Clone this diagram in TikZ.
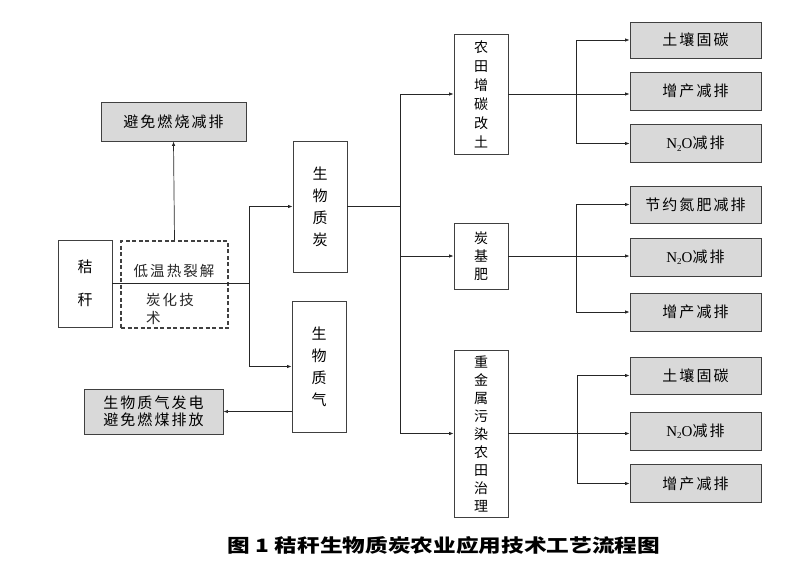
\documentclass[tikz,border=0pt]{standalone}
\usepackage{fontspec}
\newfontfamily\cjk{Noto Sans CJK SC}
\newfontfamily\cjks{Noto Sans CJK SC}[LetterSpace=14]
\newfontfamily\serifN{Liberation Serif}
\usetikzlibrary{arrows.meta}
\definecolor{boxgray}{HTML}{D9D9D9}
\definecolor{edge}{HTML}{404040}
\tikzset{
  wbox/.style={draw=edge, line width=0.9pt, fill=white, inner sep=0pt, align=center,
    font=\cjk\fontsize{14}{18}\selectfont},
  gbox/.style={draw=edge, line width=0.9pt, fill=boxgray, inner sep=0pt, align=center,
    minimum width=131pt, minimum height=38pt, font=\cjks\fontsize{15}{17}\selectfont},
  dbox/.style={draw=edge, line width=1.6pt, dash pattern=on 4pt off 2.5pt, inner sep=0pt},
  conn/.style={draw=black!85, line width=0.7pt},
  arr/.style={conn, -{Latex[length=4.5pt,width=3.5pt]}},
  plain/.style={inner sep=0pt, font=\cjks\fontsize{14.5}{18}\selectfont, text=black!85}
}
\newcommand{\NO}{{\serifN N\raisebox{-0.35ex}{\fontsize{9}{9}\selectfont 2}O}减排}
\begin{document}
\begin{tikzpicture}[x=1pt,y=-1pt]
\useasboundingbox (0,0) rectangle (800,587);
% left part
\node[wbox, minimum width=54pt, minimum height=87pt, font=\cjk\fontsize{15}{33}\selectfont] (jg) at (85,283.5) {秸\\秆};
\node[dbox, minimum width=107pt, minimum height=87pt] (dash) at (174.5,284.5) {};
\node[plain] (t1) at (174,271) {低温热裂解};
\node[plain, anchor=west] (t2) at (146,300) {炭化技};
\node[plain, anchor=west] (t3) at (146,318) {术};
\node[gbox, minimum width=145pt, minimum height=39pt] (avoid) at (173.5,121.5) {避免燃烧减排};
\node[wbox, minimum width=54pt, minimum height=131pt, font=\cjk\fontsize{15}{22}\selectfont] (char) at (320,206.5) {生\\物\\质\\炭};
\node[wbox, minimum width=54pt, minimum height=131pt, font=\cjk\fontsize{15}{22}\selectfont] (gas) at (319,366.5) {生\\物\\质\\气};
\node[gbox, minimum width=139pt, minimum height=45pt] (power) at (153.5,411.5) {生物质气发电\\避免燃煤排放};
% middle column
\node[wbox, minimum width=54pt, minimum height=120pt, font=\cjk\fontsize{14}{19}\selectfont] (n1) at (481,94) {农\\田\\增\\碳\\改\\土};
\node[wbox, minimum width=54pt, minimum height=66pt, font=\cjk\fontsize{14}{18}\selectfont] (n2) at (481,256) {炭\\基\\肥};
\node[wbox, minimum width=54pt, minimum height=167pt, font=\cjk\fontsize{14}{18}\selectfont] (n3) at (481,433.5) {重\\金\\属\\污\\染\\农\\田\\治\\理};
% right column
\node[gbox, minimum height=36pt] (a1) at (695.5,40) {土壤固碳};
\node[gbox] (a2) at (695.5,91) {增产减排};
\node[gbox] (a3) at (695.5,143.5) {\NO};
\node[gbox, minimum height=37pt] (b1) at (695.5,204.5) {节约氮肥减排};
\node[gbox] (b2) at (695.5,257) {\NO};
\node[gbox] (b3) at (695.5,312) {增产减排};
\node[gbox, minimum height=37pt] (c1) at (695.5,375.5) {土壤固碳};
\node[gbox] (c2) at (695.5,431) {\NO};
\node[gbox] (c3) at (695.5,483.5) {增产减排};
% connectors
\coordinate (s0) at (249,283.5);
\draw[conn] (jg.east) -- (s0);
\draw[arr] (s0) |- (char.west);
\draw[arr] (s0) |- (gas.west);
\draw[arr] (dash.north) -- (avoid.south);
\draw[arr] (gas.west |- power.east) -- (power.east);
\coordinate (s1) at (400,206.5);
\draw[conn] (char.east) -- (s1);
\draw[arr] (s1) |- (n1.west);
\draw[arr] (s1) |- (n2.west);
\draw[arr] (s1) |- (n3.west);
\coordinate (r1) at (576,94);
\coordinate (r2) at (576,256);
\coordinate (r3) at (577,433.5);
\draw[arr] (n1.east) -- (n1.east -| a2.west);
\draw[arr] (r1) |- (a1.west);
\draw[arr] (r1) |- (a3.west);
\draw[arr] (n2.east) -- (n2.east -| b2.west);
\draw[arr] (r2) |- (b1.west);
\draw[arr] (r2) |- (b3.west);
\draw[arr] (n3.east) -- (n3.east -| c2.west);
\draw[arr] (r3) |- (c1.west);
\draw[arr] (r3) |- (c3.west);
% caption
\node[inner sep=0pt] (cap) at (444,545) {\resizebox{432pt}{16pt}{\cjk\bfseries 图 1 秸秆生物质炭农业应用技术工艺流程图}};
\end{tikzpicture}
\end{document}
